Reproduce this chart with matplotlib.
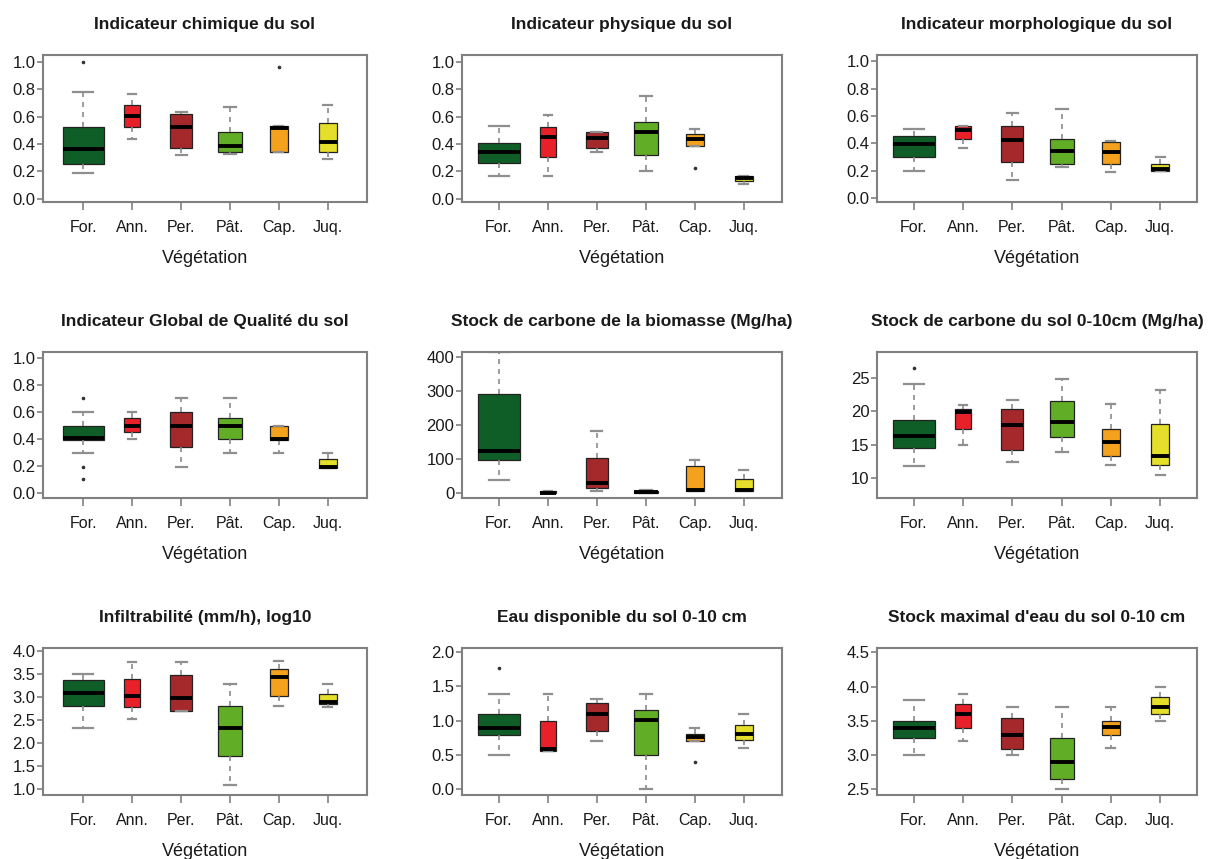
import matplotlib
matplotlib.use("Agg")
import matplotlib.pyplot as plt

plt.rcParams["font.family"] = ["Liberation Sans", "DejaVu Sans"]

# Vegetation classes and their fill colours
vegetation = ["For.", "Ann.", "Per.", "Pât.", "Cap.", "Juq."]
veg_colors = ["#0f5e27", "#e8202a", "#a5282b", "#62ad26", "#f4a11d", "#e5df2b"]
box_widths = [0.84, 0.33, 0.45, 0.49, 0.37, 0.37]

# --- Indicateur chimique du sol
chim_q1 = [0.255, 0.522, 0.369, 0.337, 0.342, 0.340]
chim_med = [0.364, 0.607, 0.527, 0.388, 0.519, 0.417]
chim_q3 = [0.520, 0.684, 0.617, 0.485, 0.532, 0.551]
chim_lo = [0.187, 0.434, 0.320, 0.328, 0.342, 0.291]
chim_hi = [0.780, 0.765, 0.636, 0.667, 0.532, 0.684]
chim_out = [[1.0], [], [], [], [0.963], []]

# --- Indicateur physique du sol
phys_q1 = [0.262, 0.306, 0.368, 0.319, 0.385, 0.132]
phys_med = [0.343, 0.453, 0.446, 0.490, 0.434, 0.147]
phys_q3 = [0.404, 0.527, 0.485, 0.559, 0.470, 0.167]
phys_lo = [0.164, 0.164, 0.338, 0.203, 0.385, 0.110]
phys_hi = [0.532, 0.608, 0.490, 0.748, 0.510, 0.167]
phys_out = [[], [], [], [], [0.22], []]

# --- Indicateur morphologique du sol
morph_q1 = [0.298, 0.431, 0.266, 0.249, 0.249, 0.197]
morph_med = [0.397, 0.500, 0.421, 0.347, 0.335, 0.209]
morph_q3 = [0.456, 0.530, 0.530, 0.433, 0.406, 0.249]
morph_lo = [0.200, 0.369, 0.130, 0.224, 0.192, 0.197]
morph_hi = [0.507, 0.530, 0.623, 0.655, 0.414, 0.303]
morph_out = [[], [], [], [], [], []]

# --- Indicateur Global de Qualité du sol
igqs_q1 = [0.390, 0.447, 0.341, 0.402, 0.390, 0.180]
igqs_med = [0.407, 0.496, 0.496, 0.496, 0.402, 0.193]
igqs_q3 = [0.494, 0.556, 0.600, 0.556, 0.494, 0.249]
igqs_lo = [0.296, 0.398, 0.193, 0.296, 0.296, 0.180]
igqs_hi = [0.600, 0.600, 0.704, 0.704, 0.494, 0.296]
igqs_out = [[0.704, 0.193, 0.099], [], [], [], [], []]

# --- Stock de carbone de la biomasse (Mg/ha)
cbio_q1 = [96, 0, 13, 0, 7, 6]
cbio_med = [124, 1, 29, 2, 10, 10]
cbio_q3 = [291, 5, 104, 5, 78, 41]
cbio_lo = [37, 0, 7, 0, 5, 5]
cbio_hi = [415, 7, 182, 10, 98, 68]
cbio_out = [[], [], [], [], [], []]

# --- Stock de carbone du sol 0-10cm (Mg/ha)
csol_q1 = [14.57, 17.28, 14.23, 16.20, 13.34, 11.97]
csol_med = [16.30, 19.84, 17.87, 18.36, 15.41, 13.25]
csol_q3 = [18.76, 20.33, 20.38, 21.56, 17.38, 18.02]
csol_lo = [11.77, 14.92, 12.36, 13.93, 12.02, 10.49]
csol_hi = [24.07, 20.87, 21.60, 24.80, 21.07, 23.18]
csol_out = [[26.5], [], [], [], [], []]

# --- Infiltrabilité (mm/h), log10
infil_q1 = [2.82, 2.78, 2.71, 1.73, 3.04, 2.86]
infil_med = [3.09, 3.03, 2.98, 2.33, 3.44, 2.91]
infil_q3 = [3.38, 3.40, 3.49, 2.82, 3.61, 3.07]
infil_lo = [2.33, 2.53, 2.71, 1.09, 2.82, 2.79]
infil_hi = [3.505, 3.76, 3.76, 3.29, 3.80, 3.29]
infil_out = [[], [], [], [], [], []]

# --- Eau disponible du sol 0-10 cm
edisp_q1 = [0.790, 0.560, 0.847, 0.500, 0.707, 0.717]
edisp_med = [0.896, 0.586, 1.094, 1.007, 0.765, 0.804]
edisp_q3 = [1.090, 1.000, 1.250, 1.150, 0.810, 0.935]
edisp_lo = [0.500, 0.560, 0.700, 0.000, 0.700, 0.596]
edisp_hi = [1.385, 1.385, 1.310, 1.385, 0.900, 1.090]
edisp_out = [[1.77], [], [], [], [0.40], []]

# --- Stock maximal d'eau du sol 0-10 cm
emax_q1 = [3.25, 3.39, 3.085, 2.65, 3.295, 3.60]
emax_med = [3.39, 3.60, 3.30, 2.905, 3.41, 3.70]
emax_q3 = [3.50, 3.75, 3.54, 3.25, 3.50, 3.85]
emax_lo = [3.00, 3.21, 3.00, 2.50, 3.10, 3.50]
emax_hi = [3.80, 3.895, 3.70, 3.70, 3.70, 3.99]
emax_out = [[], [], [], [], [], []]

panels = [
    ("Indicateur chimique du sol", chim_q1, chim_med, chim_q3, chim_lo, chim_hi, chim_out,
     (-0.025, 1.05), [0.0, 0.2, 0.4, 0.6, 0.8, 1.0], "{:.1f}"),
    ("Indicateur physique du sol", phys_q1, phys_med, phys_q3, phys_lo, phys_hi, phys_out,
     (-0.025, 1.05), [0.0, 0.2, 0.4, 0.6, 0.8, 1.0], "{:.1f}"),
    ("Indicateur morphologique du sol", morph_q1, morph_med, morph_q3, morph_lo, morph_hi, morph_out,
     (-0.03, 1.047), [0.0, 0.2, 0.4, 0.6, 0.8, 1.0], "{:.1f}"),
    ("Indicateur Global de Qualité du sol", igqs_q1, igqs_med, igqs_q3, igqs_lo, igqs_hi, igqs_out,
     (-0.04, 1.045), [0.0, 0.2, 0.4, 0.6, 0.8, 1.0], "{:.1f}"),
    ("Stock de carbone de la biomasse (Mg/ha)", cbio_q1, cbio_med, cbio_q3, cbio_lo, cbio_hi, cbio_out,
     (-15, 415), [0, 100, 200, 300, 400], "{:.0f}"),
    ("Stock de carbone du sol 0-10cm (Mg/ha)", csol_q1, csol_med, csol_q3, csol_lo, csol_hi, csol_out,
     (7.05, 28.83), [10, 15, 20, 25], "{:.0f}"),
    ("Infiltrabilité (mm/h), log10", infil_q1, infil_med, infil_q3, infil_lo, infil_hi, infil_out,
     (0.876, 4.074), [1.0, 1.5, 2.0, 2.5, 3.0, 3.5, 4.0], "{:.1f}"),
    ("Eau disponible du sol 0-10 cm", edisp_q1, edisp_med, edisp_q3, edisp_lo, edisp_hi, edisp_out,
     (-0.083, 2.058), [0.0, 0.5, 1.0, 1.5, 2.0], "{:.1f}"),
    ("Stock maximal d'eau du sol 0-10 cm", emax_q1, emax_med, emax_q3, emax_lo, emax_hi, emax_out,
     (2.417, 4.564), [2.5, 3.0, 3.5, 4.0, 4.5], "{:.1f}"),
]

W, H = 1209, 859
fig = plt.figure(figsize=(W / 100, H / 100), dpi=100)
fig.patch.set_facecolor("white")

# plot frames in pixel units: (left, right) per column, (top, bottom) per row
col_edges = [(43, 367), (462, 782), (877, 1197)]
col_xlim = [(0.18, 6.80), (0.245, 6.78), (0.25, 6.75)]
row_edges = [(55, 202), (352, 498), (648, 795)]

frame_gray = "#808080"
text_col = "#1a1a1a"

for i, (title, q1, med, q3, lo, hi, out, ylim, yticks, fmt) in enumerate(panels):
    r, c = divmod(i, 3)
    l, rr = col_edges[c]
    t, b = row_edges[r]
    ax = fig.add_axes([l / W, 1 - b / H, (rr - l) / W, (b - t) / H])

    stats = []
    for k in range(len(vegetation)):
        stats.append(dict(med=med[k], q1=q1[k], q3=q3[k],
                          whislo=lo[k], whishi=hi[k], fliers=out[k]))
    pos = list(range(1, len(vegetation) + 1))
    arts = ax.bxp(
        stats, positions=pos, widths=box_widths,
        capwidths=[w * 0.5 for w in box_widths],
        patch_artist=True, showfliers=True, manage_ticks=False,
        boxprops=dict(edgecolor="#222222", linewidth=0.9),
        whiskerprops=dict(color="#8a8a8a", linestyle=(0, (3, 3)), linewidth=1.2),
        capprops=dict(color="#8f8f8f", linewidth=1.6),
        medianprops=dict(color="black", linewidth=2.8, solid_capstyle="butt"),
        flierprops=dict(marker="o", markersize=1.6, markerfacecolor="#333333",
                        markeredgecolor="#333333", linestyle="none"),
    )
    for patch, colr in zip(arts["boxes"], veg_colors):
        patch.set_facecolor(colr)

    ax.set_xlim(*col_xlim[c])
    ax.set_ylim(*ylim)
    ax.set_xticks(pos)
    ax.set_xticklabels(vegetation, fontsize=11.5, color=text_col)
    ax.set_yticks(yticks)
    ax.set_yticklabels([fmt.format(v) for v in yticks], fontsize=12, color=text_col)
    ax.tick_params(axis="x", length=6, width=1.2, color=frame_gray, pad=7)
    ax.tick_params(axis="y", length=4, width=1.2, color=frame_gray, pad=1.5)
    for sp in ax.spines.values():
        sp.set_color(frame_gray)
        sp.set_linewidth(1.5)

    ax.annotate(title, xy=(0.5, 1), xycoords="axes fraction",
                xytext=(0, 22), textcoords="offset points",
                ha="center", va="center", fontsize=12.5, fontweight="bold",
                color=text_col)
    ax.annotate("Végétation", xy=(0.5, 0), xycoords="axes fraction",
                xytext=(0, -41), textcoords="offset points",
                ha="center", va="center", fontsize=13, color=text_col)

fig.savefig("out.png", dpi=100, facecolor="white")
